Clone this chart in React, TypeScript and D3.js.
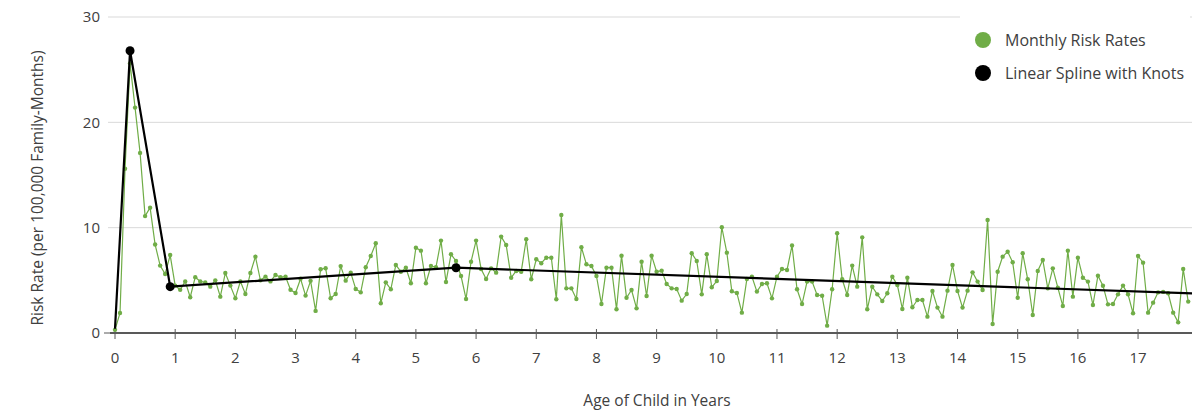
import { useEffect, useRef } from 'react';
import * as d3 from 'd3';

// monthly risk rates, month 0 .. 214
const monthlyRates = [
  0.3, 1.9, 15.6, 25.6, 21.4, 17.1, 11.1, 11.9, 8.4, 6.4, 5.6, 7.4,
  4.5, 4.1, 4.9, 3.4, 5.3, 4.9, 4.8, 4.4, 5.0, 3.45, 5.7, 4.5,
  3.3, 4.9, 3.7, 5.7, 7.25, 5.0, 5.35, 4.9, 5.5, 5.3, 5.35, 4.1,
  3.8, 5.15, 3.55, 4.95, 2.1, 6.05, 6.15, 3.3, 3.7, 6.35, 4.97, 5.73,
  4.18, 3.86, 6.24, 7.31, 8.52, 2.82, 4.81, 4.15, 6.46, 5.82, 6.2, 4.72,
  8.1, 7.82, 4.72, 6.36, 6.24, 8.77, 4.84, 7.47, 6.84, 5.41, 3.23, 6.77,
  8.77, 6.08, 5.13, 6.14, 5.73, 9.15, 8.36, 5.25, 5.89, 5.82, 8.9, 5.1,
  7.0, 6.62, 7.15, 7.15, 3.2, 11.2, 4.24, 4.24, 3.23, 8.14, 6.52, 6.36,
  5.41, 2.75, 6.2, 6.2, 2.25, 7.34, 3.35, 4.08, 2.34, 6.77, 3.51, 7.34,
  5.82, 5.92, 4.65, 4.24, 4.18, 3.07, 3.7, 7.57, 6.84, 3.67, 7.47, 4.34,
  4.94, 10.04, 7.63, 3.96, 3.8, 1.93, 5.13, 5.35, 3.93, 4.65, 4.72, 3.29,
  5.35, 6.08, 5.98, 8.3, 4.15, 2.75, 4.88, 4.88, 3.61, 3.54, 0.7, 4.15,
  9.47, 5.1, 3.61, 6.4, 4.4, 9.08, 2.25, 4.4, 3.67, 3.04, 3.77, 5.35,
  4.56, 2.28, 5.25, 2.44, 3.13, 3.13, 1.55, 3.99, 2.41, 1.55, 4.02, 6.46,
  3.99, 2.41, 4.02, 5.76, 4.88, 4.08, 10.73, 0.85, 5.82, 7.25, 7.72, 6.71,
  3.35, 7.57, 5.1, 1.71, 5.89, 6.93, 4.24, 6.14, 4.3, 2.56, 7.82, 3.45,
  7.15, 5.25, 4.88, 2.66, 5.44, 4.49, 2.72, 2.75, 3.67, 4.5, 3.67, 1.87,
  7.31, 6.68, 1.93, 2.88, 3.86, 3.9, 3.77, 1.93, 1.01, 6.08, 2.98,
];

// linear spline
const splineAges = [0, 0.25, 0.917, 5.667, 17.95];
const splineRates = [0.4, 26.8, 4.4, 6.2, 3.75];
const knotIndex = [1, 2, 3];

const xTicks = d3.range(0, 18);
const yTicks = [0, 10, 20, 30];

const legendItems = [
  { label: 'Monthly Risk Rates', color: '#70ad47' },
  { label: 'Linear Spline with Knots', color: '#000000' },
];

const W = 1192;
const H = 410;
const FONT = '"Open Sans", "Noto Sans", sans-serif';

const App = () => {
  const ref = useRef<SVGSVGElement>(null);

  useEffect(() => {
    document.body.style.margin = '0';
    const svg = d3.select(ref.current);
    svg.selectAll('*').remove();

    const x = d3.scaleLinear().domain([0, 18]).range([115, 115 + 18 * 60.18]);
    const y = d3.scaleLinear().domain([0, 30]).range([333, 17]);

    // gridlines
    svg
      .append('g')
      .selectAll('line')
      .data(yTicks.filter((d) => d > 0))
      .enter()
      .append('line')
      .attr('x1', 108)
      .attr('x2', W)
      .attr('y1', (d) => y(d))
      .attr('y2', (d) => y(d))
      .attr('stroke', '#d9d9d9')
      .attr('stroke-width', 1);

    // y tick labels
    svg
      .append('g')
      .selectAll('text')
      .data(yTicks)
      .enter()
      .append('text')
      .attr('x', 100)
      .attr('y', (d) => y(d))
      .attr('dy', '0.35em')
      .attr('text-anchor', 'end')
      .attr('font-family', FONT)
      .attr('font-size', 15)
      .attr('fill', '#404040')
      .text((d) => d);

    svg
      .append('line')
      .attr('x1', 104)
      .attr('x2', 110)
      .attr('y1', y(0))
      .attr('y2', y(0))
      .attr('stroke', '#595959')
      .attr('stroke-width', 1);

    // x axis
    svg
      .append('line')
      .attr('x1', 110)
      .attr('x2', W)
      .attr('y1', y(0))
      .attr('y2', y(0))
      .attr('stroke', '#595959')
      .attr('stroke-width', 2);

    svg
      .append('g')
      .selectAll('line')
      .data(d3.range(0, 19))
      .enter()
      .append('line')
      .attr('x1', (d) => x(d))
      .attr('x2', (d) => x(d))
      .attr('y1', y(0) - 4)
      .attr('y2', y(0) + 6)
      .attr('stroke', '#595959')
      .attr('stroke-width', 1);

    svg
      .append('g')
      .selectAll('text')
      .data(xTicks)
      .enter()
      .append('text')
      .attr('x', (d) => x(d))
      .attr('y', 358)
      .attr('dy', '0.35em')
      .attr('text-anchor', 'middle')
      .attr('font-family', FONT)
      .attr('font-size', 15)
      .attr('fill', '#404040')
      .text((d) => d);

    // axis titles
    svg
      .append('text')
      .attr('x', 657)
      .attr('y', 401)
      .attr('dy', '0.35em')
      .attr('text-anchor', 'middle')
      .attr('font-family', FONT)
      .attr('font-size', 15.5)
      .attr('fill', '#404040')
      .text('Age of Child in Years');

    svg
      .append('text')
      .attr('transform', 'translate(38,188) rotate(-90)')
      .attr('dy', '0.35em')
      .attr('text-anchor', 'middle')
      .attr('font-family', FONT)
      .attr('font-size', 15.5)
      .attr('fill', '#404040')
      .text('Risk Rate (per 100,000 Family-Months)');

    // monthly series
    const monthly = monthlyRates.map((v, i) => ({ age: i / 12, v }));
    const line = d3
      .line<{ age: number; v: number }>()
      .x((d) => x(d.age))
      .y((d) => y(d.v));

    svg
      .append('path')
      .datum(monthly)
      .attr('d', line)
      .attr('fill', 'none')
      .attr('stroke', '#70ad47')
      .attr('stroke-width', 1.2);

    svg
      .append('g')
      .selectAll('circle')
      .data(monthly)
      .enter()
      .append('circle')
      .attr('cx', (d) => x(d.age))
      .attr('cy', (d) => y(d.v))
      .attr('r', 2.2)
      .attr('fill', '#70ad47');

    // spline
    const spline = splineAges.map((a, i) => ({ age: a, v: splineRates[i] }));
    svg
      .append('path')
      .datum(spline)
      .attr('d', line)
      .attr('fill', 'none')
      .attr('stroke', '#000')
      .attr('stroke-width', 2.2);

    svg
      .append('g')
      .selectAll('circle')
      .data(knotIndex.map((i) => spline[i]))
      .enter()
      .append('circle')
      .attr('cx', (d) => x(d.age))
      .attr('cy', (d) => y(d.v))
      .attr('r', 4.5)
      .attr('fill', '#000');

    // legend
    svg
      .append('rect')
      .attr('x', 960)
      .attr('y', 0)
      .attr('width', 230)
      .attr('height', 95)
      .attr('fill', '#fff');

    const lg = svg
      .append('g')
      .selectAll('g')
      .data(legendItems)
      .enter()
      .append('g')
      .attr('transform', (_d, i) => `translate(983,${40 + i * 33})`);

    lg.append('circle').attr('r', 8).attr('fill', (d) => d.color);
    lg.append('text')
      .attr('x', 22)
      .attr('dy', '0.35em')
      .attr('font-family', FONT)
      .attr('font-size', 16)
      .attr('fill', '#404040')
      .text((d) => d.label);
  }, []);

  return <svg ref={ref} width={W} height={H} style={{ display: 'block', background: '#fff' }}></svg>;
};

export default App;
